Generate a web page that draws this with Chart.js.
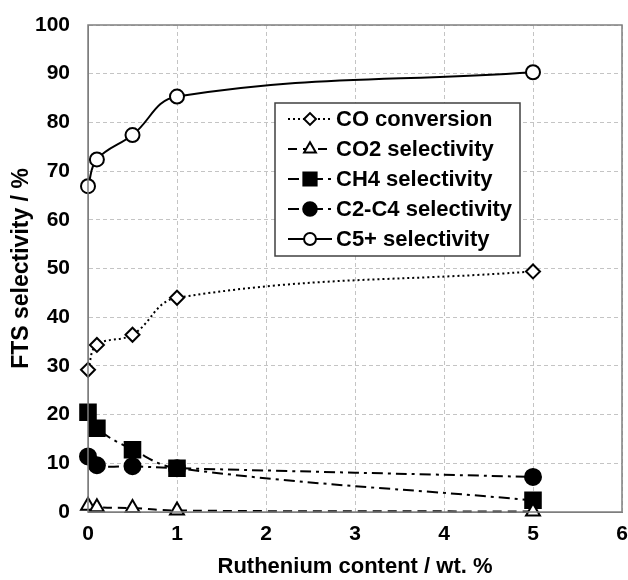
<!DOCTYPE html>
<html>
<head>
<meta charset="utf-8">
<script src="https://cdn.jsdelivr.net/npm/chart.js@4/dist/chart.umd.min.js"></script>
<style>
html,body{margin:0;padding:0;background:#fff;}
#wrap{width:628px;height:580px;position:relative;}
</style>
</head>
<body>
<div id="wrap"><canvas id="c" width="628" height="580"></canvas></div>
<script>
const ruContent = [0, 0.1, 0.5, 1, 5];
const coConversion = [29.2, 34.3, 36.4, 44.0, 49.4];
const co2Selectivity = [1.3, 1.0, 0.8, 0.3, 0.1];
const ch4Selectivity = [20.5, 17.2, 12.8, 9.0, 2.4];
const c2c4Selectivity = [11.4, 9.6, 9.4, 9.0, 7.2];
const c5Selectivity = [66.9, 72.4, 77.4, 85.3, 90.3];
const seriesLabels = ['CO conversion', 'CO2 selectivity', 'CH4 selectivity', 'C2-C4 selectivity', 'C5+ selectivity'];
const xTickValues = [0, 1, 2, 3, 4, 5, 6];
const yTickValues = [0, 10, 20, 30, 40, 50, 60, 70, 80, 90, 100];

const FONT = '"Liberation Sans", Arial, sans-serif';
const pts = v => ruContent.map((x, i) => ({x: x, y: v[i]}));

const styles = [
  {dash: [2, 3], pointStyle: 'rectRot', radius: 7, fill: '#ffffff', lw: 2},
  {dash: [9, 6], pointStyle: 'triangle', radius: 8, fill: '#ffffff', lw: 2},
  {dash: [11, 5, 3, 5], pointStyle: 'rect', radius: 11, fill: '#000000', lw: 2},
  {dash: [11, 5, 3, 5], pointStyle: 'circle', radius: 8, fill: '#000000', lw: 2},
  {dash: [], pointStyle: 'circle', radius: 7, fill: '#ffffff', lw: 2}
];
const values = [coConversion, co2Selectivity, ch4Selectivity, c2c4Selectivity, c5Selectivity];

const datasets = values.map((v, i) => ({
  label: seriesLabels[i],
  data: pts(v),
  borderColor: '#000000',
  borderWidth: styles[i].lw,
  borderDash: styles[i].dash,
  pointStyle: styles[i].pointStyle,
  pointRadius: styles[i].radius,
  pointBackgroundColor: styles[i].fill,
  pointBorderColor: '#000000',
  pointBorderWidth: 2,
  tension: 0.4,
  clip: false,
  showLine: true,
  fill: false
}));

const frameAndLegend = {
  id: 'frameAndLegend',
  afterDatasetsDraw(chart) {
    const ctx = chart.ctx;
    const a = chart.chartArea;
    ctx.save();
    ctx.strokeStyle = '#7f7f7f';
    ctx.lineWidth = 1.5;
    ctx.setLineDash([]);
    ctx.strokeRect(a.left, a.top, a.right - a.left, a.bottom - a.top);
    ctx.restore();
  },
  afterDraw(chart) {
    const ctx = chart.ctx;
    const bx = 275, by = 103, bw = 245, bh = 153;
    ctx.save();
    ctx.fillStyle = '#ffffff';
    ctx.fillRect(bx, by, bw, bh);
    ctx.strokeStyle = '#404040';
    ctx.lineWidth = 1.5;
    ctx.setLineDash([]);
    ctx.strokeRect(bx, by, bw, bh);
    const rowY = [119, 149, 179, 209, 239];
    chart.data.datasets.forEach((ds, i) => {
      const y = rowY[i];
      ctx.strokeStyle = '#000';
      ctx.lineWidth = 2;
      ctx.setLineDash(styles[i].dash);
      ctx.beginPath();
      ctx.moveTo(288, y);
      ctx.lineTo(332, y);
      ctx.stroke();
      ctx.setLineDash([]);
      ctx.fillStyle = styles[i].fill;
      ctx.strokeStyle = '#000';
      ctx.lineWidth = 2;
      Chart.helpers.drawPoint(ctx, {pointStyle: styles[i].pointStyle, radius: styles[i].radius * 0.85, borderWidth: 2}, 310, y);
      ctx.fillStyle = '#000';
      ctx.font = 'bold 22px ' + FONT;
      ctx.textAlign = 'left';
      ctx.textBaseline = 'middle';
      ctx.fillText(ds.label, 336, y + 1);
    });
    ctx.restore();
  }
};

new Chart(document.getElementById('c'), {
  type: 'scatter',
  data: {datasets: datasets},
  options: {
    responsive: false,
    animation: false,
    layout: {autoPadding: false, padding: {top: 25, right: 6, left: 0, bottom: 0}},
    plugins: {legend: {display: false}, tooltip: {enabled: false}},
    scales: {
      x: {
        type: 'linear', min: 0, max: 6,
        afterBuildTicks: s => { s.ticks = xTickValues.map(v => ({value: v})); },
        afterFit: s => { s.height = 68; s.paddingLeft = 0; s.paddingRight = 0; },
        grid: {color: '#c4c4c4', lineWidth: 1, drawTicks: false},
        border: {display: true, color: '#7f7f7f', dash: [4, 3], width: 1},
        ticks: {color: '#000', padding: 10, font: {family: FONT, size: 21, weight: 'bold'}},
        title: {display: true, text: 'Ruthenium content / wt. %', color: '#000', padding: {top: 2, bottom: 0}, font: {family: FONT, size: 22, weight: 'bold'}}
      },
      y: {
        type: 'linear', min: 0, max: 100,
        afterBuildTicks: s => { s.ticks = yTickValues.map(v => ({value: v})); },
        afterFit: s => { s.width = 88; s.paddingTop = 0; s.paddingBottom = 0; },
        grid: {color: '#c4c4c4', lineWidth: 1, drawTicks: false},
        border: {display: true, color: '#7f7f7f', dash: [4, 3], width: 1},
        ticks: {color: '#000', padding: 18, font: {family: FONT, size: 21, weight: 'bold'}},
        title: {display: true, text: 'FTS selectivity / %', color: '#000', padding: {top: 8, bottom: 0}, font: {family: FONT, size: 23, weight: 'bold'}}
      }
    }
  },
  plugins: [frameAndLegend]
});
</script>
</body>
</html>
